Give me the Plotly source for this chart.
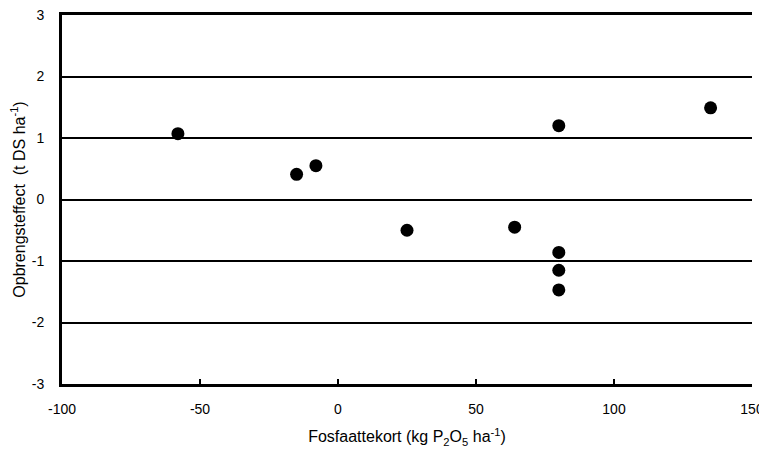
import plotly.graph_objects as go

fosfaattekort = [-58, -15, -8, 25, 64, 80, 80, 80, 80, 135]
opbrengsteffect = [1.07, 0.41, 0.55, -0.50, -0.45, 1.20, -0.86, -1.15, -1.47, 1.49]
x_ticks = [-100, -50, 0, 50, 100, 150]
x_labels = ["-100", "-50", "0", "50", "100", "150"]
y_ticks = [-3, -2, -1, 0, 1, 2, 3]
y_labels = ["-3", "-2", "-1", "0", "1", "2", "3"]

font = "Liberation Sans Narrow, Liberation Sans, Arial, sans-serif"

fig = go.Figure()
fig.add_trace(go.Scatter(
    x=fosfaattekort, y=opbrengsteffect, mode="markers",
    marker=dict(color="black", size=13),
    showlegend=False, cliponaxis=False,
))

fig.update_layout(
    width=767, height=454,
    margin=dict(l=54, r=23, t=7, b=78, autoexpand=False),
    paper_bgcolor="white", plot_bgcolor="white",
    font=dict(family=font, size=13, color="black"),
    xaxis=dict(
        range=[-100, 150], tickvals=x_ticks, ticktext=x_labels, showgrid=False, zeroline=False,
        showline=True, linecolor="black", linewidth=3, mirror=True,
        ticks="inside", ticklen=5, tickwidth=2, tickcolor="black",
        ticklabeloverflow="allow", ticklabelstandoff=10,
        tickfont=dict(size=14),
        title=dict(text="Fosfaattekort (kg P<sub>2</sub>O<sub>5</sub> ha<sup>-1</sup>)", standoff=16),
        automargin=False, fixedrange=True,
    ),
    yaxis=dict(
        range=[-3, 3], tickvals=y_ticks, ticktext=y_labels, showgrid=True, gridcolor="black", gridwidth=2,
        zeroline=False, showline=True, linecolor="black", linewidth=3,
        ticks="", ticklabelstandoff=12, ticklabeloverflow="allow",
        tickfont=dict(size=14),
        title=dict(text="Opbrengsteffect  (t DS ha<sup>-1</sup>)", standoff=10),
        automargin=False, fixedrange=True,
    ),
)

fig.write_html("out.html")
